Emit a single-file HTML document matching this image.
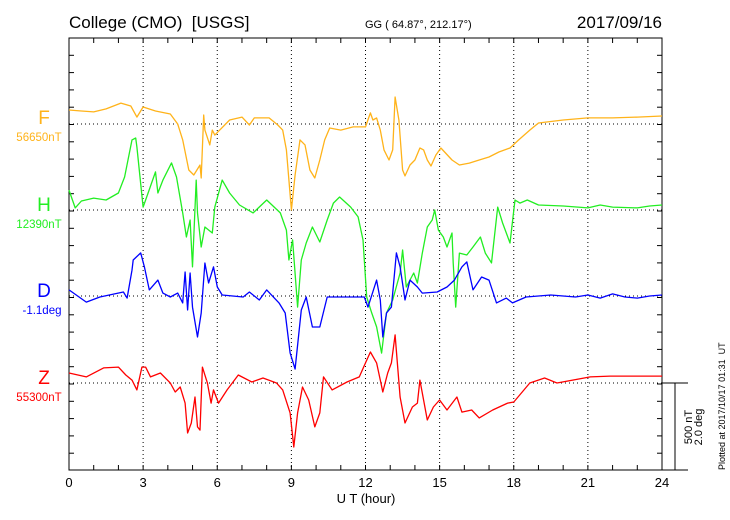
<!DOCTYPE html>
<html><head><meta charset="utf-8"><style>
html,body{margin:0;padding:0;background:#fff;}
svg{display:block;font-family:"Liberation Sans",sans-serif;}
text{white-space:pre;}
</style></head><body>
<svg id="chart" width="730" height="520" viewBox="0 0 730 520" xmlns="http://www.w3.org/2000/svg" xml:space="preserve">
<text x="69" y="28" font-size="17" fill="#000">College (CMO)  [USGS]</text>
<text x="365" y="28" font-size="11" fill="#000">GG ( 64.87°, 212.17°)</text>
<text x="662" y="28" font-size="17" fill="#000" text-anchor="end">2017/09/16</text>
<text x="366" y="503" font-size="13" text-anchor="middle">U T (hour)</text>
<text x="44" y="124" font-size="19" fill="#ffb31a" text-anchor="middle">F</text>
<text x="39" y="141" font-size="11.5" fill="#ffb31a" text-anchor="middle">56650nT</text>
<text x="44" y="211" font-size="19" fill="#22ee22" text-anchor="middle">H</text>
<text x="39" y="228" font-size="11.5" fill="#22ee22" text-anchor="middle">12390nT</text>
<text x="44" y="297" font-size="19" fill="#0000ff" text-anchor="middle">D</text>
<text x="42" y="314" font-size="11.5" fill="#0000ff" text-anchor="middle">-1.1deg</text>
<text x="44" y="384" font-size="19" fill="#ff0000" text-anchor="middle">Z</text>
<text x="39" y="401" font-size="11.5" fill="#ff0000" text-anchor="middle">55300nT</text>
<line x1="662" y1="383" x2="688" y2="383" stroke="#000"/>
<line x1="662" y1="470" x2="688" y2="470" stroke="#000"/>
<line x1="675" y1="383" x2="675" y2="470" stroke="#000"/>
<text transform="translate(692,427) rotate(-90)" font-size="11" text-anchor="middle">500 nT</text>
<text transform="translate(702,427) rotate(-90)" font-size="11" text-anchor="middle">2.0 deg</text>
<text transform="translate(725,470) rotate(-90)" font-size="9">Plotted at 2017/10/17 01:31  UT</text>
</svg>
<script>
const xTicks = [0,3,6,9,12,15,18,21,24];
const fT=[0,0.5,1,1.5,2.1,2.5,2.75,3,3.5,4.1,4.4,4.6,4.85,5.05,5.3,5.35,5.45,5.5,5.7,5.8,5.9,6.1,6.5,7,7.3,7.5,8.1,8.45,8.65,8.8,9,9.15,9.35,9.55,9.75,9.95,10.15,10.35,10.55,11,11.5,12,12.2,12.3,12.45,12.6,12.75,12.95,13.1,13.2,13.35,13.5,13.6,13.8,14,14.2,14.35,14.5,14.65,14.85,15.05,15.2,15.5,15.8,16.2,16.6,17,17.4,17.85,18.2,18.65,19,20,21,22,23,24];
const fV=[81,75,70,87,121,104,40,98,75,58,0,-92,-266,-295,-237,-312,52,-35,-121,-35,-64,-35,23,40,-6,35,35,-6,-35,-150,-497,-295,-92,-121,-266,-312,-208,-92,-23,-35,-17,-17,64,23,35,-35,-150,-208,-150,156,23,-266,-300,-237,-208,-139,-150,-208,-243,-179,-139,-162,-208,-237,-226,-208,-191,-162,-139,-92,-35,6,23,35,35,40,46];
const hT=[0,0.25,0.5,1,1.5,2,2.25,2.55,2.7,2.75,3,3.2,3.5,3.6,3.8,4.15,4.35,4.6,4.75,4.9,5,5.15,5.2,5.35,5.5,5.8,5.9,6.2,6.5,6.9,7.45,8,8.55,8.8,8.9,9.05,9.25,9.4,9.6,9.85,10.15,10.45,10.7,10.95,11.4,11.7,11.9,12.05,12.25,12.45,12.65,12.85,13.1,13.4,13.5,13.65,13.95,14.1,14.3,14.5,14.7,14.8,14.95,15.15,15.3,15.5,15.55,15.65,15.8,16.1,16.35,16.65,16.85,17.1,17.35,17.55,17.85,18.05,18.25,18.55,19,20,21,21.5,22,23,23.5,24];
const hV=[115,12,52,69,58,98,191,405,416,364,17,98,220,98,173,272,191,-17,-156,-58,-329,173,-17,-214,-98,-133,17,173,98,29,-17,58,-17,-116,-289,-173,-561,-289,-191,-98,-185,-58,40,75,17,-40,-173,-503,-595,-676,-827,-595,-520,-364,-231,-445,-364,-422,-249,-98,-58,0,-116,-156,-214,-133,-306,-561,-249,-260,-214,-156,-249,-306,17,-75,-191,58,40,58,29,23,12,29,17,12,23,29];
const dT=[0,0.7,1.25,2.2,2.35,2.55,2.6,2.9,3.05,3.25,3.6,3.8,4.1,4.4,4.6,4.7,4.8,4.9,5,5.2,5.35,5.5,5.65,5.85,6,6.2,7.05,7.3,7.7,8,8.5,8.75,8.95,9.15,9.4,9.6,9.85,10.15,10.45,11,11.95,12.1,12.45,12.6,12.7,12.85,13.05,13.25,13.4,13.6,13.8,14.1,14.3,14.9,15.3,15.6,15.9,16.1,16.35,16.7,17,17.3,17.7,17.95,18.5,19.5,20.5,21,21.5,22,22.5,23,23.5,24];
const dV=[35,-35,-6,23,-12,150,208,249,168,35,92,17,-6,17,-40,139,-81,133,-64,-237,-98,191,75,168,52,6,-6,23,-23,35,-40,-98,-329,-422,-81,-6,-179,-179,-6,-6,-6,-64,92,-23,-237,-98,-64,249,168,-23,92,52,17,23,52,92,168,197,35,110,92,-40,-12,-40,-6,6,-6,6,-12,12,-6,-12,0,6];
const zT=[0,0.7,1.4,2,2.3,2.55,2.75,2.95,3.1,3.3,3.7,4.1,4.3,4.5,4.7,4.8,4.95,5.1,5.2,5.3,5.4,5.6,5.75,5.85,6.05,6.4,6.85,7.4,7.85,8.4,8.65,8.95,9.1,9.25,9.45,9.7,9.95,10.15,10.3,10.65,11.25,11.75,12,12.2,12.45,12.6,12.7,12.9,13.05,13.2,13.4,13.6,13.9,14.1,14.2,14.5,14.75,15,15.3,15.7,15.9,16.3,16.6,17.15,17.75,18,18.65,19.25,19.75,21.1,21.9,24];
const zV=[58,35,87,92,46,17,-40,92,92,35,58,0,-52,-23,-116,-289,-231,-81,-254,-272,92,0,-116,-40,-116,-40,46,6,29,0,-40,-173,-370,-173,-23,-98,-254,-173,35,-40,6,35,116,179,116,17,-52,58,116,278,-81,-231,-139,-116,17,-214,-139,-98,-156,-81,-168,-156,-202,-156,-116,-110,0,29,0,35,40,40];

const svg=document.getElementById('chart');
const NS='http://www.w3.org/2000/svg';
const L=69,R=662,T=38,B=470;
const PX_PER_NT=17.3/100;
function xs(h){return L+(R-L)*h/24;}
function ys(base,v){return base-v*PX_PER_NT;}
function mk(tag,attrs){const e=document.createElementNS(NS,tag);for(const k in attrs)e.setAttribute(k,attrs[k]);svg.appendChild(e);return e;}

for(const h of xTicks.slice(1,-1)){
  const g=mk('line',{x1:xs(h),y1:T,x2:xs(h),y2:B,stroke:'#000','stroke-dasharray':'1,3','stroke-width':1});
  
  
}
const bases=[124,210,296,383];
for(const b of bases){
  const g=mk('line',{x1:L,y1:b,x2:R,y2:b,stroke:'#000','stroke-dasharray':'1,3','stroke-width':1});
  
  
}
const fr=mk('rect',{x:L,y:T,width:R-L,height:B-T,fill:'none',stroke:'#000','stroke-width':1});


for(let h=1;h<24;h++){
  const t1=mk('line',{x1:xs(h),y1:T,x2:xs(h),y2:T+5,stroke:'#000'});
  
  
  const t2=mk('line',{x1:xs(h),y1:B,x2:xs(h),y2:B-5,stroke:'#000'});
  
  
}
for(let i=1;i<25;i++){
  const y=T+i*17.3;
  if(y>=B)break;
  const t1=mk('line',{x1:L,y1:y,x2:L+5,y2:y,stroke:'#000'});
  
  
  const t2=mk('line',{x1:R,y1:y,x2:R-5,y2:y,stroke:'#000'});
  
  
}
for(const h of xTicks){
  const t=mk('text',{x:xs(h),y:487,'font-size':13,'text-anchor':'middle'});
  t.textContent=h;
  
  
}
const series=[[fT,fV,124,'#ffb31a','f-series'],[hT,hV,210,'#22ee22','h-series'],[dT,dV,296,'#0000ff','d-series'],[zT,zV,383,'#ff0000','z-series']];
for(const [t,v,b,c,n] of series){
  const d=t.map((h,i)=>(i?'L':'M')+xs(h).toFixed(1)+','+ys(b,v[i]).toFixed(1)).join('');
  const p=mk('path',{d:d,fill:'none',stroke:c,'stroke-width':1.3,'stroke-linejoin':'round'});
  
  
}
</script>
</body></html>
